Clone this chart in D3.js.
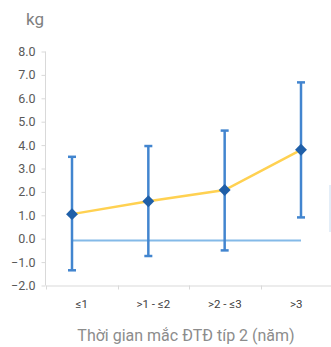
<!DOCTYPE html>
<html>
<head>
<meta charset="utf-8">
<script src="https://cdn.jsdelivr.net/npm/d3@7"></script>
<style>
body{ margin:0; background:#fff; font-family: Roboto, "Liberation Sans", Arial, sans-serif; }
svg{ display:block; }
</style>
</head>
<body>
<svg id="chart" width="331" height="347"></svg>
<script>
// data
var categories = ['≤1', '>1 - ≤2', '>2 - ≤3', '>3']
var means = [1.05, 1.6, 2.08, 3.8]
var upper = [3.5, 3.96, 4.62, 6.68]
var lower = [-1.35, -0.74, -0.5, 0.91]
var refValue = -0.08
var yTicks = [8, 7, 6, 5, 4, 3, 2, 1, 0, -1, -2]

var svg = d3.select('#chart')

var y = d3.scaleLinear().domain([-2, 8]).range([285.5, 51.5])
var xBand = d3.scaleBand().domain(categories).range([46, 332])
var x = d3.scalePoint().domain(categories).range([72, 301])

// y axis
var yAxis = d3.axisLeft(y).tickValues(yTicks).tickSize(4).tickPadding(6).tickFormat(d3.format('.1f'))
var gy = svg.append('g').attr('transform', 'translate(45.5,0)').call(yAxis)
gy.select('.domain').attr('stroke', '#d9d9d9').attr('d', 'M0,' + y(8) + 'V' + y(-2))
gy.selectAll('.tick line').attr('stroke', '#d9d9d9')
gy.selectAll('.tick text').attr('fill', '#595959').attr('font-size', 12.5).attr('font-family', 'Roboto, "Liberation Sans", sans-serif')

// x axis
var xAxis = d3.axisBottom(xBand).tickSize(0).tickPadding(0)
var gx = svg.append('g').attr('transform', 'translate(0,' + (y(-2)) + ')').call(xAxis)
gx.select('.domain').attr('stroke', '#d9d9d9')
gx.selectAll('.tick text').attr('fill', '#404040').attr('font-size', 11.5).attr('dy', 0).attr('y', 22)
  .attr('font-family', 'Roboto, "Liberation Sans", sans-serif')
// band separators
svg.append('g').selectAll('line').data(categories).enter().append('line')
  .attr('x1', function(d){ return Math.round(xBand(d)) + 0.5 })
  .attr('x2', function(d){ return Math.round(xBand(d)) + 0.5 })
  .attr('y1', y(-2)).attr('y2', y(-2) + 4)
  .attr('stroke', '#d9d9d9')

// unit label
svg.append('text').attr('x', 26).attr('y', 25).text('kg')
  .attr('fill', '#7f7f7f').attr('font-size', 17)

// axis title
svg.append('text').attr('x', 186).attr('y', 341).attr('text-anchor', 'middle')
  .text('Thời gian mắc ĐTĐ típ 2 (năm)')
  .attr('fill', '#8c8c8c').attr('font-size', 16)

// reference line
svg.append('line')
  .attr('x1', x(categories[0])).attr('x2', x(categories[categories.length - 1]))
  .attr('y1', y(refValue)).attr('y2', y(refValue))
  .attr('stroke', '#84bae8').attr('stroke-width', 2)

// faint edge mark on the right
svg.append('line').attr('x1', 330).attr('x2', 330).attr('y1', 185).attr('y2', 232)
  .attr('stroke', '#e4eef8').attr('stroke-width', 2)

// error bars
var eb = svg.append('g').selectAll('g').data(categories).enter().append('g')
  .attr('stroke', '#4285cf').attr('stroke-width', 2.5)
eb.append('line')
  .attr('x1', function(d){ return x(d) }).attr('x2', function(d){ return x(d) })
  .attr('y1', function(d, i){ return y(upper[i]) }).attr('y2', function(d, i){ return y(lower[i]) })
eb.append('line')
  .attr('x1', function(d){ return x(d) - 4 }).attr('x2', function(d){ return x(d) + 4 })
  .attr('y1', function(d, i){ return y(upper[i]) }).attr('y2', function(d, i){ return y(upper[i]) })
eb.append('line')
  .attr('x1', function(d){ return x(d) - 4 }).attr('x2', function(d){ return x(d) + 4 })
  .attr('y1', function(d, i){ return y(lower[i]) }).attr('y2', function(d, i){ return y(lower[i]) })

// mean line
var line = d3.line().x(function(d){ return x(d.c) }).y(function(d){ return y(d.v) })
var pts = categories.map(function(c, i){ return {c: c, v: means[i]} })
svg.append('path').datum(pts).attr('d', line)
  .attr('fill', 'none').attr('stroke', '#ffd151').attr('stroke-width', 2.5)

// diamonds
svg.append('g').selectAll('path').data(pts).enter().append('path')
  .attr('d', d3.symbol().type(d3.symbolDiamond2).size(90))
  .attr('transform', function(d){ return 'translate(' + x(d.c) + ',' + y(d.v) + ')' })
  .attr('fill', '#1f5fa8')
</script>
</body>
</html>
